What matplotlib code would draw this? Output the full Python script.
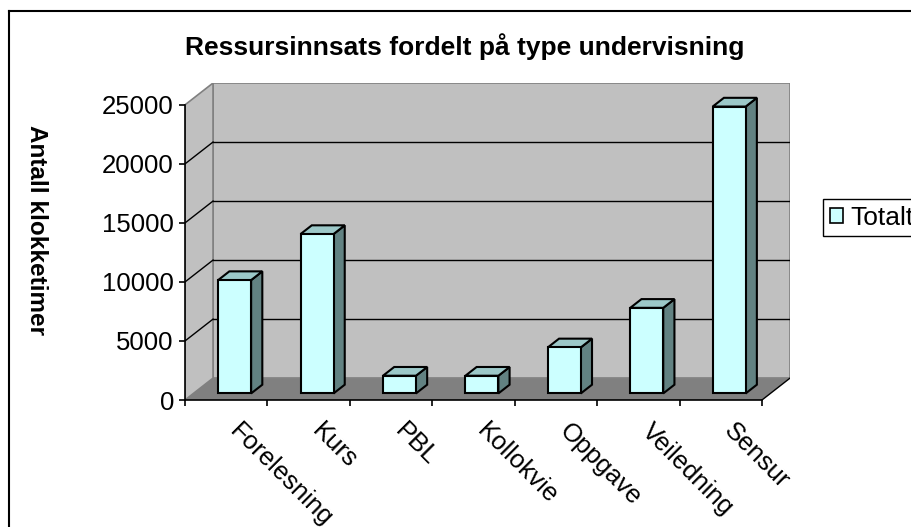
import matplotlib
matplotlib.use("Agg")
import matplotlib.pyplot as plt
from matplotlib.patches import Polygon, Patch
from matplotlib.lines import Line2D
import matplotlib.transforms as mtransforms

# ---- data ----
categories = ["Forelesning", "Kurs", "PBL", "Kollokvie", "Oppgave", "Veiledning", "Sensur"]
totalt = [9600, 13500, 1500, 1500, 3900, 7250, 24300]
yticks = [0, 5000, 10000, 15000, 20000, 25000]
title = "Ressursinnsats fordelt på type undervisning"
caption = "Figur 5: Ressursinnsats fordelt på type undervisning"
ylabel = "Antall klokketimer"
legend_label = "Totalt"

plt.rcParams['font.family'] = ['Liberation Sans', 'DejaVu Sans']

W, H = 912, 527
fig = plt.figure(figsize=(W / 100, H / 100), dpi=100)

# 3D oblique depth offset, in data units (category units, value units)
DX = 0.34
DY = 1852
YMAX = 25000
N = len(categories)

ax = fig.add_axes([185 / W, 127 / H, 605 / W, 317 / H])
ax.set_xlim(0, N + DX)
ax.set_ylim(0, YMAX + DY)
for s in ["top", "right"]:
    ax.spines[s].set_visible(False)
ax.spines["left"].set_bounds(0, YMAX)
ax.spines["bottom"].set_bounds(0, N)
ax.spines["left"].set_linewidth(1.2)
ax.spines["bottom"].set_linewidth(1.2)
ax.patch.set_visible(False)
ax.set_yticks(yticks)
ax.set_yticklabels([str(v) for v in yticks], fontsize=18.5)
ax.set_xticks(range(N + 1))
ax.set_xticklabels([])
ax.tick_params(axis="both", direction="out", length=4, width=1.2, pad=4)

wall = "#c0c0c0"
edge_gray = "#808080"
# back wall
ax.add_patch(Polygon([(DX, DY), (N + DX, DY), (N + DX, YMAX + DY), (DX, YMAX + DY)],
                     closed=True, fc=wall, ec=edge_gray, lw=1.2, zorder=1))
# left wall
ax.add_patch(Polygon([(0, 0), (DX, DY), (DX, YMAX + DY), (0, YMAX)],
                     closed=True, fc=wall, ec=edge_gray, lw=1.2, zorder=1))
# floor
ax.add_patch(Polygon([(0, 0), (N, 0), (N + DX, DY), (DX, DY)],
                     closed=True, fc="#808080", ec="none", lw=0, zorder=1.5))
ax.plot([N, N + DX], [0, DY], color="black", lw=1.0, zorder=2)

# gridlines
for v in yticks[1:-1]:
    ax.plot([DX, N + DX], [v + DY, v + DY], color="black", lw=1.0, zorder=2)
    ax.plot([0, DX], [v, v + DY], color="black", lw=1.0, zorder=2)

# bars
F0, BD, BW = 0.3, 0.4, 0.4
front_c, top_c, side_c = "#ccffff", "#9cc8c8", "#628282"
for i, v in enumerate(totalt):
    x0 = i + (1 - BW) / 2 + F0 * DX
    y0 = F0 * DY
    bx, by = BD * DX, BD * DY
    kw = dict(closed=True, ec="black", lw=1.5, joinstyle="miter", zorder=3)
    ax.add_patch(Polygon([(x0 + BW, y0), (x0 + BW + bx, y0 + by), (x0 + BW + bx, y0 + v + by),
                          (x0 + BW, y0 + v)], fc=side_c, **kw))
    ax.add_patch(Polygon([(x0, y0 + v), (x0 + BW, y0 + v), (x0 + BW + bx, y0 + v + by),
                          (x0 + bx, y0 + v + by)], fc=top_c, **kw))
    ax.add_patch(Polygon([(x0, y0), (x0 + BW, y0), (x0 + BW, y0 + v), (x0, y0 + v)],
                         fc=front_c, **kw))

# category labels
lab_tr = mtransforms.offset_copy(ax.transData, fig=fig, x=16, y=-19, units="dots")
for i, c in enumerate(categories):
    ax.text(i + 0.5, 0, c, transform=lab_tr, rotation=-45, rotation_mode="anchor",
            ha="left", va="top", fontsize=18.5, clip_on=False)

# title and y label
fig.text(465 / W, 1 - 47 / H, title, ha="center", va="center", fontsize=19, fontweight="bold")
fig.text(36 / W, 1 - 230 / H, ylabel, ha="center", va="center", rotation=-90,
         fontsize=17.5, fontweight="bold")

# cut-off document caption above the chart (only descenders visible)
fig.text(0, 1 + 5.5 / H, caption, ha="left", va="baseline", fontsize=18,
         fontweight="bold", color="#2b8fd3")

# legend
fig.legend(handles=[Patch(fc=front_c, ec="black", lw=1.2)], labels=[legend_label],
           loc="upper left", bbox_to_anchor=(823 / W, 1 - 199 / H), borderaxespad=0,
           frameon=True, fancybox=False, edgecolor="black", framealpha=1, fontsize=19,
           handlelength=0.5, handleheight=0.5, handletextpad=0.3, borderpad=0.25)

# outer chart frame
fig.add_artist(Line2D([9 / W, 9 / W], [0, 1 - 10.5 / H], transform=fig.transFigure, color="black", lw=1.5))
fig.add_artist(Line2D([9 / W, 1], [1 - 10.5 / H, 1 - 10.5 / H], transform=fig.transFigure, color="black", lw=1.5))

fig.savefig("out.png", dpi=100)
